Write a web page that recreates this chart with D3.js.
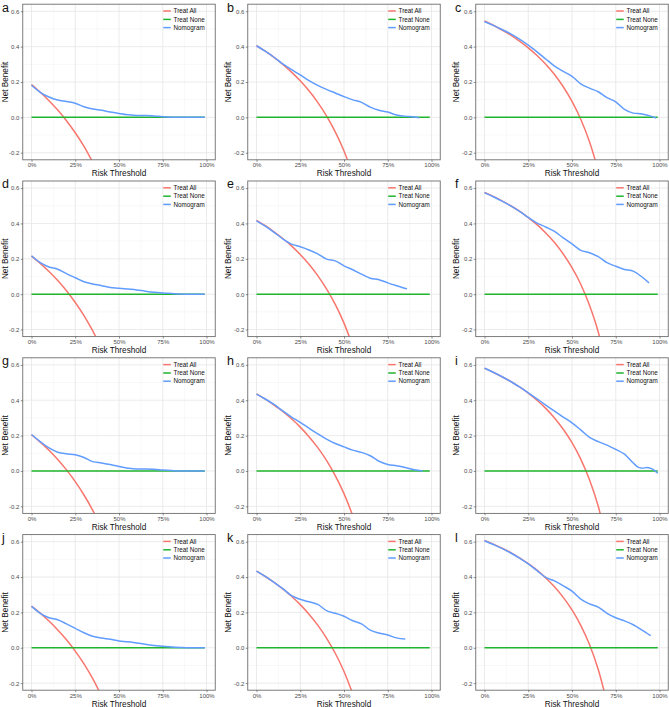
<!DOCTYPE html>
<html><head><meta charset="utf-8">
<script src="https://cdn.jsdelivr.net/npm/d3@7"></script>
<style>
body{margin:0;background:#fff}
svg{display:block}
text{font-family:"Liberation Sans",Arial,Helvetica,sans-serif}
</style>
</head><body>
<svg id="chart" width="669" height="707"></svg>
<script>
// ---------------- data ----------------
const panelLabels = ["a","b","c","d","e","f","g","h","i","j","k","l"];
const seriesNames = ["Treat All","Treat None","Nomogram"];
const seriesColors = ["#F8766D","#1FB52E","#619CFF"];
const xTicks = [0, 0.25, 0.5, 0.75, 1];
const xTickLabels = ["0%","25%","50%","75%","100%"];
const yTicks = [-0.2, 0, 0.2, 0.4, 0.6];
const yTickLabels = ["-0.2","0.0","0.2","0.4","0.6"];
const xAxisTitle = "Risk Threshold";
const yAxisTitle = "Net Benefit";

// thresholds at which the Treat All values are read
const allThresholds = [0,0.05,0.10,0.15,0.20,0.25,0.30,0.35,0.40,0.45,0.50,0.55,0.60,0.65,0.70];
const treatAllA = [0.185,0.142,0.094,0.041,-0.019,-0.087,-0.164,-0.254];
const treatAllB = [0.405,0.374,0.339,0.300,0.256,0.207,0.150,0.085,0.008,-0.082,-0.190,-0.322];
const treatAllC = [0.545,0.521,0.494,0.465,0.431,0.393,0.350,0.300,0.242,0.173,0.090,-0.011,-0.138,-0.300];
const treatAllD = [0.215,0.174,0.128,0.077,0.019,-0.047,-0.121,-0.208,-0.308];
const treatAllE = [0.418,0.387,0.353,0.315,0.273,0.224,0.169,0.105,0.030,-0.058,-0.164,-0.293];
const treatAllF = [0.575,0.553,0.528,0.500,0.469,0.433,0.393,0.346,0.292,0.227,0.150,0.056,-0.063,-0.214,-0.417];
const treatAllG = [0.205,0.163,0.117,0.065,0.006,-0.060,-0.136,-0.223,-0.325];
const treatAllH = [0.436,0.406,0.373,0.337,0.295,0.248,0.194,0.132,0.060,-0.026,-0.128,-0.253];
const treatAllI = [0.580,0.558,0.533,0.506,0.475,0.440,0.400,0.354,0.300,0.236,0.160,0.067,-0.050,-0.200,-0.400];
const treatAllJ = [0.236,0.196,0.151,0.101,0.045,-0.019,-0.091,-0.175,-0.273];
const treatAllK = [0.433,0.403,0.370,0.333,0.291,0.244,0.190,0.128,0.055,-0.031,-0.134,-0.260];
const treatAllL = [0.607,0.586,0.563,0.538,0.509,0.476,0.439,0.395,0.345,0.285,0.214,0.127,0.018,-0.123,-0.310];

const noneThresholds = [0, 0.99];
const treatNone = [0, 0];

// Nomogram: [threshold, net benefit]
const nomogramA = [[0,0.182],[0.05,0.142],[0.10,0.115],[0.15,0.098],[0.20,0.090],[0.25,0.080],[0.30,0.060],[0.35,0.047],[0.40,0.040],[0.45,0.030],[0.50,0.022],[0.55,0.015],[0.60,0.011],[0.65,0.011],[0.70,0.008],[0.75,0.004],[0.80,0.001],[0.85,0],[0.90,0],[0.95,0],[0.99,0]];
const nomogramB = [[0,0.405],[0.05,0.374],[0.10,0.340],[0.15,0.302],[0.20,0.270],[0.25,0.240],[0.30,0.208],[0.35,0.181],[0.40,0.158],[0.45,0.138],[0.50,0.117],[0.55,0.099],[0.60,0.085],[0.65,0.058],[0.70,0.040],[0.75,0.030],[0.80,0.013],[0.85,0.007],[0.90,0.002],[0.93,-0.002]];
const nomogramC = [[0,0.542],[0.05,0.520],[0.10,0.497],[0.15,0.472],[0.20,0.442],[0.25,0.408],[0.30,0.370],[0.35,0.330],[0.40,0.290],[0.45,0.260],[0.50,0.232],[0.55,0.190],[0.60,0.165],[0.65,0.145],[0.70,0.112],[0.75,0.088],[0.80,0.045],[0.85,0.024],[0.90,0.019],[0.95,0.007],[0.98,-0.004]];
const nomogramD = [[0,0.217],[0.05,0.178],[0.10,0.154],[0.15,0.141],[0.20,0.116],[0.25,0.093],[0.30,0.070],[0.35,0.058],[0.40,0.048],[0.45,0.038],[0.50,0.034],[0.55,0.029],[0.60,0.024],[0.65,0.017],[0.70,0.011],[0.75,0.007],[0.80,0.004],[0.85,0.001],[0.90,0],[0.95,0],[0.99,0]];
const nomogramE = [[0,0.415],[0.05,0.385],[0.10,0.350],[0.15,0.313],[0.20,0.283],[0.25,0.268],[0.30,0.250],[0.35,0.228],[0.40,0.198],[0.45,0.188],[0.50,0.160],[0.55,0.138],[0.60,0.113],[0.65,0.090],[0.70,0.082],[0.75,0.064],[0.80,0.048],[0.86,0.030]];
const nomogramF = [[0,0.574],[0.05,0.551],[0.10,0.526],[0.15,0.499],[0.20,0.468],[0.25,0.434],[0.30,0.402],[0.35,0.380],[0.40,0.355],[0.45,0.318],[0.50,0.284],[0.55,0.248],[0.60,0.234],[0.65,0.212],[0.70,0.178],[0.75,0.158],[0.80,0.140],[0.85,0.130],[0.90,0.097],[0.94,0.064]];
const nomogramG = [[0,0.206],[0.05,0.166],[0.10,0.130],[0.15,0.106],[0.20,0.097],[0.25,0.092],[0.30,0.076],[0.35,0.053],[0.40,0.045],[0.45,0.036],[0.50,0.025],[0.55,0.016],[0.60,0.011],[0.65,0.011],[0.70,0.009],[0.75,0.005],[0.80,0.002],[0.85,0],[0.90,0],[0.95,0],[0.99,0]];
const nomogramH = [[0,0.435],[0.05,0.407],[0.10,0.376],[0.15,0.340],[0.20,0.305],[0.25,0.275],[0.30,0.242],[0.35,0.210],[0.40,0.180],[0.45,0.155],[0.50,0.136],[0.55,0.118],[0.60,0.105],[0.65,0.086],[0.70,0.055],[0.75,0.037],[0.80,0.030],[0.85,0.020],[0.90,0.007],[0.95,0]];
const nomogramI = [[0,0.582],[0.05,0.558],[0.10,0.533],[0.15,0.506],[0.20,0.475],[0.25,0.442],[0.30,0.408],[0.35,0.372],[0.40,0.338],[0.45,0.305],[0.50,0.272],[0.55,0.232],[0.60,0.190],[0.65,0.166],[0.70,0.146],[0.75,0.122],[0.80,0.095],[0.85,0.045],[0.88,0.020],[0.90,0.016],[0.93,0.019],[0.96,0.010],[0.99,-0.013]];
const nomogramJ = [[0,0.234],[0.05,0.195],[0.10,0.170],[0.15,0.158],[0.20,0.135],[0.25,0.110],[0.30,0.085],[0.35,0.065],[0.40,0.055],[0.45,0.048],[0.50,0.038],[0.55,0.034],[0.60,0.027],[0.65,0.020],[0.70,0.013],[0.75,0.009],[0.80,0.005],[0.85,0.002],[0.90,0],[0.95,0],[0.99,0]];
const nomogramK = [[0,0.434],[0.05,0.404],[0.10,0.370],[0.15,0.334],[0.20,0.295],[0.25,0.274],[0.30,0.260],[0.35,0.245],[0.40,0.210],[0.45,0.195],[0.50,0.178],[0.55,0.153],[0.60,0.135],[0.65,0.100],[0.70,0.083],[0.75,0.072],[0.80,0.056],[0.85,0.049]];
const nomogramL = [[0,0.605],[0.05,0.584],[0.10,0.562],[0.15,0.536],[0.20,0.507],[0.25,0.474],[0.30,0.436],[0.35,0.398],[0.40,0.378],[0.45,0.350],[0.50,0.320],[0.55,0.275],[0.60,0.248],[0.65,0.230],[0.70,0.195],[0.75,0.170],[0.80,0.152],[0.85,0.130],[0.90,0.100],[0.95,0.068]];

const treatAllSeries = [treatAllA,treatAllB,treatAllC,treatAllD,treatAllE,treatAllF,treatAllG,treatAllH,treatAllI,treatAllJ,treatAllK,treatAllL];
const nomogramSeries = [nomogramA,nomogramB,nomogramC,nomogramD,nomogramE,nomogramF,nomogramG,nomogramH,nomogramI,nomogramJ,nomogramK,nomogramL];

// ---------------- layout ----------------
const colLeft = [22.75, 247.75, 475.75];
const rowTop = [4.2, 181.0, 357.8, 534.6];
const panelW = 192.5, panelH = 155.6;
const yTitleOffset = [17.4, 19.2, 19.5];

const svg = d3.select("#chart");
const defs = svg.append("defs");

panelLabels.forEach((lab, i) => {
  const col = i % 3, row = Math.floor(i / 3);
  const L = colLeft[col], T = rowTop[row];
  const x = d3.scaleLinear().domain([-0.05, 1.05]).range([L, L + panelW]);
  const y = d3.scaleLinear().domain([-0.24, 0.64]).range([T + panelH, T]);
  const g = svg.append("g");

  g.append("rect").attr("x", L).attr("y", T).attr("width", panelW).attr("height", panelH).attr("fill", "#fff");

  // minor grid
  const xMinor = [0.125, 0.375, 0.625, 0.875];
  const yMinor = [-0.1, 0.1, 0.3, 0.5];
  g.selectAll(null).data(xMinor).enter().append("line")
    .attr("x1", d => x(d)).attr("x2", d => x(d)).attr("y1", T).attr("y2", T + panelH)
    .attr("stroke", "#F0F0F0").attr("stroke-width", 0.5);
  g.selectAll(null).data(yMinor).enter().append("line")
    .attr("y1", d => y(d)).attr("y2", d => y(d)).attr("x1", L).attr("x2", L + panelW)
    .attr("stroke", "#F0F0F0").attr("stroke-width", 0.5);
  // major grid
  g.selectAll(null).data(xTicks).enter().append("line")
    .attr("x1", d => x(d)).attr("x2", d => x(d)).attr("y1", T).attr("y2", T + panelH)
    .attr("stroke", "#E6E6E6").attr("stroke-width", 0.8);
  g.selectAll(null).data(yTicks).enter().append("line")
    .attr("y1", d => y(d)).attr("y2", d => y(d)).attr("x1", L).attr("x2", L + panelW)
    .attr("stroke", "#E6E6E6").attr("stroke-width", 0.8);

  const cid = "clip" + i;
  defs.append("clipPath").attr("id", cid).append("rect")
    .attr("x", L).attr("y", T).attr("width", panelW).attr("height", panelH);

  const line = d3.line().x(d => x(d[0])).y(d => y(d[1])).curve(d3.curveMonotoneX);
  const cg = g.append("g").attr("clip-path", `url(#${cid})`);
  const allData = treatAllSeries[i].map((v, k) => [allThresholds[k], v]);
  const noneData = treatNone.map((v, k) => [noneThresholds[k], v]);
  const series = [allData, noneData, nomogramSeries[i]];
  series.forEach((s, k) => {
    cg.append("path").datum(s).attr("d", line)
      .attr("fill", "none").attr("stroke", seriesColors[k]).attr("stroke-width", 1.5)
      .attr("stroke-linejoin", "round");
  });

  g.append("rect").attr("x", L).attr("y", T).attr("width", panelW).attr("height", panelH)
    .attr("fill", "none").attr("stroke", "#6E6E6E").attr("stroke-width", 0.9);

  const xAxis = d3.axisBottom(x).tickValues(xTicks).tickFormat((d, k) => xTickLabels[k])
    .tickSizeInner(2).tickSizeOuter(0).tickPadding(1.3);
  const xa = g.append("g").attr("transform", `translate(0,${T + panelH})`).call(xAxis);
  xa.select(".domain").remove();
  xa.selectAll("line").attr("stroke", "#444").attr("stroke-width", 0.6);
  xa.selectAll("text").attr("fill", "#4D4D4D").attr("font-size", 6).attr("font-family", null);

  const yAxis = d3.axisLeft(y).tickValues(yTicks).tickFormat((d, k) => yTickLabels[k])
    .tickSizeInner(2).tickSizeOuter(0).tickPadding(1.3);
  const ya = g.append("g").attr("transform", `translate(${L},0)`).call(yAxis);
  ya.select(".domain").remove();
  ya.selectAll("line").attr("stroke", "#444").attr("stroke-width", 0.6);
  ya.selectAll("text").attr("fill", "#4D4D4D").attr("font-size", 6).attr("font-family", null);

  g.append("text").attr("x", x(0.5)).attr("y", T + panelH + 16.3)
    .attr("text-anchor", "middle").attr("font-size", 8.2).attr("fill", "#111").text(xAxisTitle);
  g.append("text").attr("transform", `translate(${L - yTitleOffset[col] + 2.8},${T + panelH / 2}) rotate(-90)`)
    .attr("text-anchor", "middle").attr("font-size", 8.2).attr("fill", "#111").text(yAxisTitle);

  g.append("text").attr("x", L - 20.8).attr("y", T + 7.3)
    .attr("font-size", 12.5).attr("fill", "#111").text(lab);

  const lx = L + panelW - 52;
  const ly = [T + 6.8, T + 15.2, T + 23.4];
  seriesNames.forEach((nm, k) => {
    g.append("line").attr("x1", lx).attr("x2", lx + 7.5).attr("y1", ly[k]).attr("y2", ly[k])
      .attr("stroke", seriesColors[k]).attr("stroke-width", 1.5);
    g.append("text").attr("x", lx + 10.3).attr("y", ly[k]).attr("dy", "0.35em")
      .attr("font-size", 6.3).attr("fill", "#111").text(nm);
  });
});
</script>
</body></html>
